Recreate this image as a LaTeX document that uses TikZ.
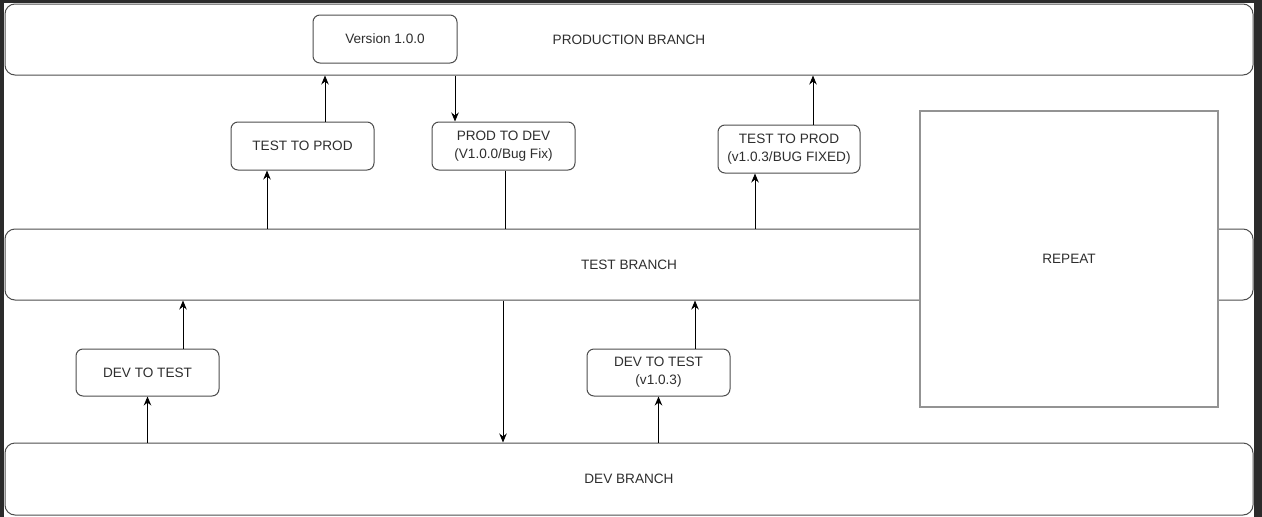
\documentclass[tikz,border=0pt]{standalone}
\usepackage{fontspec}
\setmainfont{Liberation Sans}
\usepackage{tikz}
\usetikzlibrary{arrows.meta}

\definecolor{frame}{HTML}{2B2B2B}
\definecolor{edge}{HTML}{4D4D4D}
\definecolor{label}{HTML}{2E2E2E}

\begin{document}
\begin{tikzpicture}[x=1pt,y=-1pt,
    branch/.style={draw=edge,line width=1pt,fill=white,rounded corners=10pt,
      minimum width=1248pt,minimum height=71pt,inner sep=0pt},
    stage/.style={draw=edge,line width=1pt,fill=white,rounded corners=7pt,
      minimum width=143pt,minimum height=48pt,inner sep=0pt,align=center},
    arr/.style={-{Stealth[length=9pt,width=7.5pt]},line width=1pt,black},
    every node/.style={font=\fontsize{13.6}{18}\selectfont,text=label}]
  \useasboundingbox (0,0) rectangle (1262,517);
  \fill[frame] (0,0) rectangle (1262,517);
  \fill[white] (4,3) rectangle (1254,517);

  \node[branch] (prod) at (629,39.5) {PRODUCTION BRANCH};
  \node[branch] (test) at (629,264.5) {TEST BRANCH};
  \node[branch,minimum height=72pt] (dev) at (629,479) {DEV BRANCH};

  \node[draw=gray!85,line width=1.6pt,fill=white,minimum width=298pt,minimum height=296pt]
    (repeat) at (1069,259) {REPEAT};

  \node[stage,minimum width=144pt] (ver) at (385,39) {Version 1.0.0};
  \node[stage] (ttpA) at (302.5,146) {TEST TO PROD};
  \node[stage] (ptd) at (503.5,146) {PROD TO DEV\\(V1.0.0/Bug Fix)};
  \node[stage,minimum width=142pt] (ttpB) at (789,149) {TEST TO PROD\\(v1.0.3/BUG FIXED)};
  \node[stage,minimum height=47pt] (dttA) at (147.5,372.5) {DEV TO TEST};
  \node[stage,minimum height=47pt] (dttB) at (658.5,372.5) {DEV TO TEST\\(v1.0.3)};

  % test -> prod
  \draw[arr] ([xshift=22.5pt]ttpA.north) -- ([xshift=22.5pt]ttpA.north |- prod.south);
  \draw[arr] ([xshift=-35.5pt]ttpA.south |- test.north) -- ([xshift=-35.5pt]ttpA.south);
  \draw[arr] ([xshift=24pt]ttpB.north) -- ([xshift=24pt]ttpB.north |- prod.south);
  \draw[arr] ([xshift=-34pt]ttpB.south |- test.north) -- ([xshift=-34pt]ttpB.south);
  % prod -> dev
  \draw[arr] ([xshift=-48.5pt]ptd.north |- prod.south) -- ([xshift=-48.5pt]ptd.north);
  \draw[line width=1pt] ([xshift=1.5pt]ptd.south) -- ([xshift=1.5pt]ptd.south |- test.north);
  \draw[arr] ([xshift=-0.5pt]ptd.south |- test.south) -- ([xshift=-0.5pt]ptd.south |- dev.north);
  % dev -> test
  \draw[arr] ([xshift=35.5pt]dttA.north) -- ([xshift=35.5pt]dttA.north |- test.south);
  \draw[arr] (dttA.south |- dev.north) -- (dttA.south);
  \draw[arr] ([xshift=36.5pt]dttB.north) -- ([xshift=36.5pt]dttB.north |- test.south);
  \draw[arr] (dttB.south |- dev.north) -- (dttB.south);
\end{tikzpicture}
\end{document}
